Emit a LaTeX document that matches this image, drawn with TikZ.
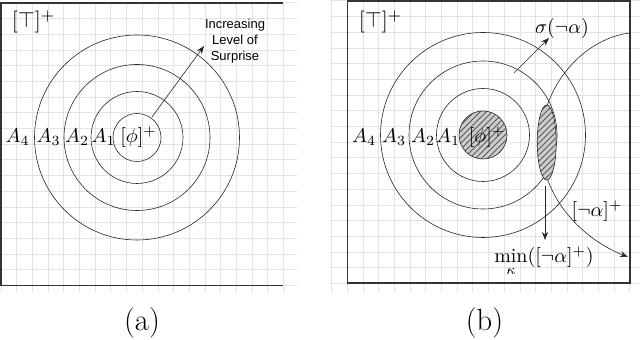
\documentclass[tikz,border=0pt]{standalone}
\usepackage{fontspec}
\newfontfamily\helv{Liberation Sans}
\usetikzlibrary{patterns,arrows.meta,positioning}
\tikzset{
  gridline/.style={gray!22,line width=0.5pt},
  frameline/.style={black!80,line width=0.8pt},
  ring/.style={black!85,line width=0.3pt},
  hatchfill/.style={pattern=north east lines,pattern color=gray!70!black},
  caplabel/.style={anchor=base,font=\fontsize{15.3}{18}\selectfont},
}
\begin{document}
\begin{tikzpicture}[x=0.5pt,y=-0.5pt,>={Stealth[length=4pt,width=3pt]}]
\useasboundingbox (0,0) rectangle (640,340);
% grids
\foreach \k in {0,...,18} {
  \draw[gridline] (1,3+15.7*\k) -- (297,3+15.7*\k);
  \draw[gridline] (1+15.7*\k,3) -- (1+15.7*\k,292);
  \draw[gridline] (330,1+15.7*\k) -- (640,1+15.7*\k);
}
\foreach \k in {-1,...,18}
  \draw[gridline] (347.3+15.7*\k,1) -- (347.3+15.7*\k,292);
\draw[frameline] (283,3) -- (1,3) -- (1,285.7) -- (283,285.7);
\draw[frameline] (347.3,1) rectangle (630,283);
% (a)
\coordinate (ca) at (137,137.5);
\foreach \r in {24,46,73,102.5}
  \draw[ring] (ca) circle[radius=\r];
\node[anchor=base,font=\fontsize{11}{13}\selectfont] (topa) at (33.5,28) {$[\top]^+$};
\node (a4) at (17.5,137) {$A_4$};
\node (a3) at (48.5,137) {$A_3$};
\node (a2) at (77,137) {$A_2$};
\node (a1) at (103.5,137) {$A_1$};
\node (phia) at (138.5,137) {$[\phi]^+$};
\coordinate (sa) at (152,117);
\coordinate (ta) at (204,46);
\draw[->,ring] (sa) -- (ta);
\node[align=center,font=\helv\fontsize{6.5}{8}\selectfont] (surp) at (235,41) {Increasing\\Level of\\Surprise};
\node[caplabel] (capa) at (142,331) {(a)};
% (b)
\coordinate (cb) at (483,135);
\fill[gray!40] (cb) circle[radius=24];
\fill[hatchfill] (cb) circle[radius=24];
\foreach \r in {24,46.5,74,102.5}
  \draw[ring] (cb) circle[radius=\r];
\coordinate (bt) at (630,33);
\coordinate (be) at (628,257);
\draw[->,ring] (bt) .. controls (585,38) and (541,85) .. (541,142) .. controls (541,200) and (585,240) .. (be);
\coordinate (lens) at (546.7,142.5);
\fill[gray!40] (lens) ellipse[x radius=9.5,y radius=37.5];
\fill[hatchfill] (lens) ellipse[x radius=9.5,y radius=37.5];
\draw[ring] (lens) ellipse[x radius=9.5,y radius=37.5];
\node[anchor=base,font=\fontsize{11}{13}\selectfont] (topb) at (380.5,28) {$[\top]^+$};
\node (b4) at (364,137) {$A_4$};
\node (b3) at (394,137) {$A_3$};
\node (b2) at (423,137) {$A_2$};
\node (b1) at (448,137) {$A_1$};
\node (phib) at (487,137) {$[\phi]^+$};
\coordinate (ss) at (514,73);
\coordinate (st) at (549,38);
\draw[->,ring] (ss) -- (st);
\node (sig) at (562,29) {$\sigma(\neg\alpha)$};
\node (nal) at (597,211) {$[\neg\alpha]^+$};
\node[anchor=base] (minl) at (544,263) {$\min\limits_{\kappa}([\neg\alpha]^+)$};
\coordinate (mb) at (545,186);
\draw[->,ring] (mb) -- (mb |- minl.north);
\node[caplabel] (capb) at (484.5,331) {(b)};
\end{tikzpicture}
\end{document}
